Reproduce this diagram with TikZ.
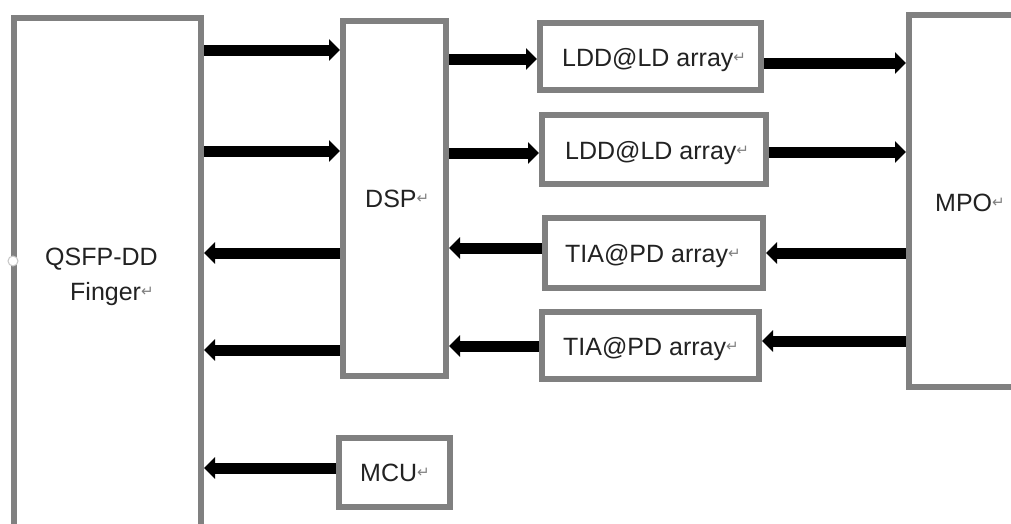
\documentclass[tikz,border=0pt]{standalone}
\usepackage{fontspec}
\setmainfont{Liberation Sans}
\newfontfamily\symf{DejaVu Sans}
\usetikzlibrary{arrows.meta}
\definecolor{boxgray}{RGB}{128,128,128}
\definecolor{txtc}{RGB}{34,34,34}
\newcommand\pmk{{\symf\fontsize{15}{15}\selectfont\color{gray}\raisebox{4pt}{↵}}}
\begin{document}
\begin{tikzpicture}[x=1pt,y=-1pt,
  blk/.style={draw=boxgray,line width=6pt,inner sep=0pt,outer sep=3pt},
  lbl/.style={font=\fontsize{25}{25}\selectfont,text=txtc,inner sep=0pt,anchor=base west},
  arr/.style={draw=black,line width=11pt,-{Triangle[width=21pt,length=11pt]}}]
\clip (0,0) rectangle (1011,523);
\fill[white] (0,0) rectangle (1011,523);
% boxes
\node[blk,minimum width=187pt,minimum height=542pt] (qsfp) at (107.5,289) {};
\node[blk,minimum width=103pt,minimum height=355pt] (dsp) at (394.5,198.5) {};
\node[blk,minimum width=221pt,minimum height=67pt] (ldd1) at (650.5,56.5) {};
\node[blk,minimum width=224pt,minimum height=69pt] (ldd2) at (654,149.5) {};
\node[blk,minimum width=218pt,minimum height=70pt] (tia1) at (654,253) {};
\node[blk,minimum width=217pt,minimum height=67pt] (tia2) at (650.5,345.5) {};
\node[blk,minimum width=121pt,minimum height=372pt] (mpo) at (969.5,201) {};
\node[blk,minimum width=111pt,minimum height=69pt] (mcu) at (394.5,472.5) {};
% small notch on the left border
\draw[gray!45,fill=white,line width=1pt] (13,261) circle (5);
% labels
\node[lbl] (qsfpA) at (45,265) {QSFP-DD};
\node[lbl] (qsfpB) at (70,300) {Finger\pmk};
\node[lbl] (dspT) at (365,207) {DSP\pmk};
\node[lbl] (ldd1T) at (562,66) {LDD@LD array\pmk};
\node[lbl] (ldd2T) at (565,159) {LDD@LD array\pmk};
\node[lbl] (tia1T) at (565,262) {TIA@PD array\pmk};
\node[lbl] (tia2T) at (563,355) {TIA@PD array\pmk};
\node[lbl] (mpoT) at (935,211) {MPO\pmk};
\node[lbl] (mcuT) at (360,481) {MCU\pmk};
% y levels
\coordinate (y1) at (0,50);
\coordinate (y2) at (0,151);
\coordinate (y3) at (0,59);
\coordinate (y4) at (0,153);
\coordinate (y5) at (0,63);
\coordinate (y6) at (0,152);
\coordinate (y7) at (0,253);
\coordinate (y8) at (0,341);
\coordinate (y9) at (0,248);
\coordinate (y10) at (0,346);
\coordinate (y11) at (0,253);
\coordinate (y12) at (0,350);
\coordinate (y13) at (0,468);
% connectors
\draw[arr] (qsfp.east |- y1) -- (dsp.west |- y1);
\draw[arr] (qsfp.east |- y2) -- (dsp.west |- y2);
\draw[arr] (dsp.east |- y3) -- (ldd1.west |- y3);
\draw[arr] (dsp.east |- y4) -- (ldd2.west |- y4);
\draw[arr] (ldd1.east |- y5) -- (mpo.west |- y5);
\draw[arr] (ldd2.east |- y6) -- (mpo.west |- y6);
\draw[arr] (mpo.west |- y7) -- (tia1.east |- y7);
\draw[arr] (mpo.west |- y8) -- (tia2.east |- y8);
\draw[arr] (tia1.west |- y9) -- (dsp.east |- y9);
\draw[arr] (tia2.west |- y10) -- (dsp.east |- y10);
\draw[arr] (dsp.west |- y11) -- (qsfp.east |- y11);
\draw[arr] (dsp.west |- y12) -- (qsfp.east |- y12);
\draw[arr] (mcu.west |- y13) -- (qsfp.east |- y13);
\end{tikzpicture}
\end{document}
